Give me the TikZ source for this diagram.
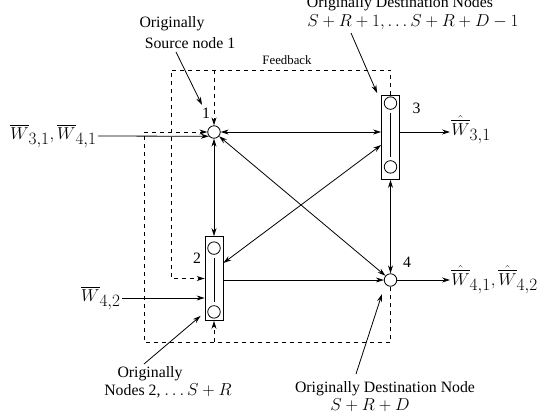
\documentclass[tikz,border=0pt]{standalone}
\usepackage{amsmath}
\usepackage[no-math]{fontspec}
\setmainfont{Liberation Serif}
\usetikzlibrary{arrows.meta,positioning,calc}
\newcommand{\mbig}[1]{{\fontsize{19}{22}\selectfont$#1$}}

\begin{document}
\begin{tikzpicture}[x=1pt,y=-1pt,line width=0.8pt,>={Stealth[length=8pt,width=5pt]},
  term/.style={draw,circle,minimum size=12.5pt,inner sep=0pt},
  relay/.style={draw,minimum width=18pt,minimum height=84pt,inner sep=0pt},
  txt/.style={font=\fontsize{15.8}{18}\selectfont,inner sep=1pt,anchor=base},
  wlab/.style={font=\fontsize{17}{20}\selectfont,inner sep=1pt},
  fb/.style={dash pattern=on 4pt off 4pt}]
  \useasboundingbox (0,0) rectangle (548,418);
  % terminals and relays
  \node[term] (n1) at (214,132) {};
  \node[relay] (n2) at (214,278.5) {};
  \node[relay] (n3) at (390.5,137.5) {};
  \node[term] (n4) at (390.5,280) {};
  \node[term] (n2t) at ($(n2.north)+(0,12)$) {};
  \node[term] (n2b) at ($(n2.south)+(0,-9)$) {};
  \node[term] (n3t) at ($(n3.north)+(0,8)$) {};
  \node[term] (n3b) at ($(n3.south)+(0,-13)$) {};
  \draw[shorten <=3pt,shorten >=3pt] (n2t) -- (n2b);
  \draw[shorten <=3pt,shorten >=3pt] (n3t) -- (n3b);
  \node[txt] (l1) at (206,118) {1};
  \node[txt] (l2) at (197,263) {2};
  \node[txt] (l3) at (416.5,113) {3};
  \node[txt] (l4) at (407,267) {4};
  % links
  \draw[<->] (n1) -- (n1 -| n3.west);
  \draw[<->] (n1) -- (n2);
  \draw[<->] (n1) -- (n4);
  \draw[<->] ($(n2.east)+(0,-15.5)$) -- ($(n3.west)+(0,7.5)$);
  \draw[->] (n2.east |- n4) -- (n4);
  \draw[<->] (n3) -- (n4);
  % messages in and out
  \node[wlab,anchor=east] (w1in) at (98,136) {$\overline{W}_{\textstyle 3{,}1},\overline{W}_{\textstyle 4{,}1}$};
  \node[wlab,anchor=east] (w2in) at (122,298) {$\overline{W}_{\textstyle 4{,}2}$};
  \draw[->] (w1in.east) -- (n1.220);
  \draw[->] (w2in.east) -- (w2in.east -| n2.west);
  \node[wlab,anchor=base west] (w3out) at (450,135) {$\hat{\overline{W}}_{\textstyle 3{,}1}$};
  \node[wlab,anchor=base west] (w4out) at (450,285) {$\hat{\overline{W}}_{\textstyle 4{,}1},\hat{\overline{W}}_{\textstyle 4{,}2}$};
  \draw[->] (n3.east |- n1) -- (n1 -| w3out.west);
  \draw[->] (n4) -- (n4 -| w4out.west);
  % feedback
  \coordinate (fbtl) at (171,70);
  \coordinate (fbbl) at (144,342);
  \draw[fb,->] (n3.north) |- (fbtl) |- (n2.west);
  \draw[fb,->] (n1 |- fbtl) -- (n1);
  \draw[fb,->] (n4.south) |- (fbbl) |- (n1.west);
  \draw[fb,->] (n2 |- fbbl) -- (n2.south);
  \node[txt,font=\fontsize{12.8}{15}\selectfont] (fblab) at (287,64) {Feedback};
  % notes
  \node[txt] (o1a) at (172,27) {Originally};
  \node[txt] (o1b) at (190,48) {Source node 1};
  \draw[->] ($(o1b.base)+(-14,4)$) -- ($(l1.base)+(-4,-13)$);
  \node[txt] (o3a) at (400,7) {Originally Destination Nodes};
  \node[txt] (o3b) at (413,26) {\mbig{S+R+1,\ldots S+R+D-1}};
  \draw[->] ($(o3b.base)+(-62,7)$) -- ($(n3.north west)+(-4,-2)$);
  \node[txt] (o2a) at (150,377) {Originally};
  \node[txt] (o2b) at (168,395.5) {Nodes 2, \mbig{\ldots S+R}};
  \draw[->] ($(o2a.base)+(-6,-13)$) -- ($(n2.south west)+(-4,-5)$);
  \node[txt] (o4a) at (385,392) {Originally Destination Node};
  \node[txt] (o4b) at (370,410.5) {\mbig{S+R+D}};
  \draw[->] ($(o4a.base)+(-29,-18)$) -- ($(n4)+(-8.5,14)$);
\end{tikzpicture}
\end{document}
